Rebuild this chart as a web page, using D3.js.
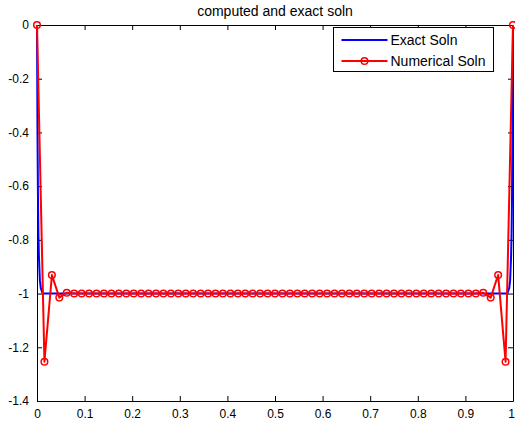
<!DOCTYPE html>
<html>
<head>
<meta charset="utf-8">
<script src="https://cdn.jsdelivr.net/npm/d3@7"></script>
<style>
  html, body { margin: 0; padding: 0; background: #fff; }
  svg { display: block; font-family: "Liberation Sans", Arial, sans-serif; }
</style>
</head>
<body>
<div id="chart"></div>
<script>
// grid nodes (h = 1/64) and the computed solution on them
const nodes = [0, .0156, .0313, .0469, .0625, .0781, .0938, .1094, .125, .1406, .1563, .1719, .1875,
  .2031, .2188, .2344, .25, .2656, .2813, .2969, .3125, .3281, .3438, .3594, .375, .3906, .4063,
  .4219, .4375, .4531, .4688, .4844, .5, .5156, .5313, .5469, .5625, .5781, .5938, .6094, .625,
  .6406, .6563, .6719, .6875, .7031, .7188, .7344, .75, .7656, .7813, .7969, .8125, .8281, .8438,
  .8594, .875, .8906, .9063, .9219, .9375, .9531, .9688, .9844, 1];
const numerical = [0, -1.254, -0.931, -1.015, -0.997, -1, -1, -1, -1, -1, -1, -1, -1,
  -1, -1, -1, -1, -1, -1, -1, -1, -1, -1, -1, -1, -1, -1,
  -1, -1, -1, -1, -1, -1, -1, -1, -1, -1, -1, -1, -1, -1,
  -1, -1, -1, -1, -1, -1, -1, -1, -1, -1, -1, -1, -1, -1,
  -1, -1, -1, -1, -1, -0.997, -1.015, -0.931, -1.254, 0];

// exact solution (boundary layers at both ends)
const exactX = [0, 0.001, 0.002, 0.003, 0.004, 0.006, 0.008, 0.012, 0.5, 0.988, 0.992, 0.994, 0.996, 0.997, 0.998, 0.999, 1];
const exactY = [0, -0.39, -0.63, -0.78, -0.86, -0.95, -0.98, -1, -1, -1, -0.98, -0.95, -0.86, -0.78, -0.63, -0.39, 0];

const xTicks = [0, 0.1, 0.2, 0.3, 0.4, 0.5, 0.6, 0.7, 0.8, 0.9, 1];
const yTicks = [0, -0.2, -0.4, -0.6, -0.8, -1, -1.2, -1.4];
const legendLabels = ["Exact Soln", "Numerical Soln"];
const titleText = "computed and exact soln";

const W = 515, H = 423;
const margin = { top: 25, right: 2, bottom: 22, left: 37 };
const width = W - margin.left - margin.right;
const height = H - margin.top - margin.bottom;

const svg = d3.select("#chart").append("svg")
  .attr("width", W)
  .attr("height", H);

svg.append("rect").attr("width", W).attr("height", H).attr("fill", "#fff");

const g = svg.append("g")
  .attr("transform", `translate(${margin.left}, ${margin.top})`);

const x = d3.scaleLinear().domain([0, 1]).range([0, width]);
const y = d3.scaleLinear().domain([-1.4, 0]).range([height, 0]);

const fmt = d => String(d);

// axes with inward ticks, mirrored on top/right like a boxed plot
const xAxis = g.append("g")
  .attr("class", "axis")
  .attr("transform", `translate(0, ${height})`)
  .call(d3.axisBottom(x).tickValues(xTicks).tickFormat(fmt).tickSizeInner(-5).tickSizeOuter(0).tickPadding(8));
g.append("g")
  .attr("class", "axis")
  .call(d3.axisTop(x).tickValues(xTicks).tickFormat("").tickSizeInner(-5).tickSizeOuter(0));
g.append("g")
  .attr("class", "axis")
  .call(d3.axisLeft(y).tickValues(yTicks).tickFormat(fmt).tickSizeInner(-5).tickSizeOuter(0).tickPadding(8));
g.append("g")
  .attr("class", "axis")
  .attr("transform", `translate(${width}, 0)`)
  .call(d3.axisRight(y).tickValues(yTicks).tickFormat("").tickSizeInner(-5).tickSizeOuter(0));

g.selectAll(".axis path").attr("stroke", "#000");
g.selectAll(".axis line").attr("stroke", "#000");
g.selectAll(".axis text")
  .attr("fill", "#000")
  .style("font-size", "12px")
  .style("font-family", "\"Liberation Sans\", Arial, sans-serif");

// last x label sits at the window edge, keep it inside
xAxis.selectAll(".tick text").filter(d => d === 1).attr("dx", "-2");

// title
svg.append("text")
  .attr("x", margin.left + width / 2)
  .attr("y", 16)
  .attr("text-anchor", "middle")
  .style("font-size", "14px")
  .text(titleText);

const line = d3.line().x(d => x(d[0])).y(d => y(d[1]));

const exactData = exactX.map((v, i) => [v, exactY[i]]);
const numData = nodes.map((v, i) => [v, numerical[i]]);

g.append("path")
  .datum(exactData)
  .attr("fill", "none")
  .attr("stroke", "#0000ff")
  .attr("stroke-width", 2)
  .attr("d", line);

g.append("path")
  .datum(numData)
  .attr("fill", "none")
  .attr("stroke", "#ff0000")
  .attr("stroke-width", 2)
  .attr("stroke-linejoin", "round")
  .attr("d", line);

g.selectAll("circle.pt")
  .data(numData)
  .join("circle")
  .attr("class", "pt")
  .attr("cx", d => x(d[0]))
  .attr("cy", d => y(d[1]))
  .attr("r", 3.3)
  .attr("fill", "none")
  .attr("stroke", "#ff0000")
  .attr("stroke-width", 1.5);

// legend
const legend = svg.append("g").attr("transform", "translate(333.5, 27.5)");
legend.append("rect")
  .attr("width", 160)
  .attr("height", 44)
  .attr("fill", "#fff")
  .attr("stroke", "#000")
  .attr("stroke-width", 1);

const legendColors = ["#0000ff", "#ff0000"];
legendLabels.forEach((label, i) => {
  const ly = 12.5 + i * 21;
  legend.append("line")
    .attr("x1", 8).attr("x2", 54)
    .attr("y1", ly).attr("y2", ly)
    .attr("stroke", legendColors[i])
    .attr("stroke-width", 2);
  if (i === 1) {
    legend.append("circle")
      .attr("cx", 31).attr("cy", ly).attr("r", 3.3)
      .attr("fill", "none")
      .attr("stroke", "#ff0000")
      .attr("stroke-width", 1.5);
  }
  legend.append("text")
    .attr("x", 57)
    .attr("y", ly + 5)
    .style("font-size", "14px")
    .text(label);
});
</script>
</body>
</html>
